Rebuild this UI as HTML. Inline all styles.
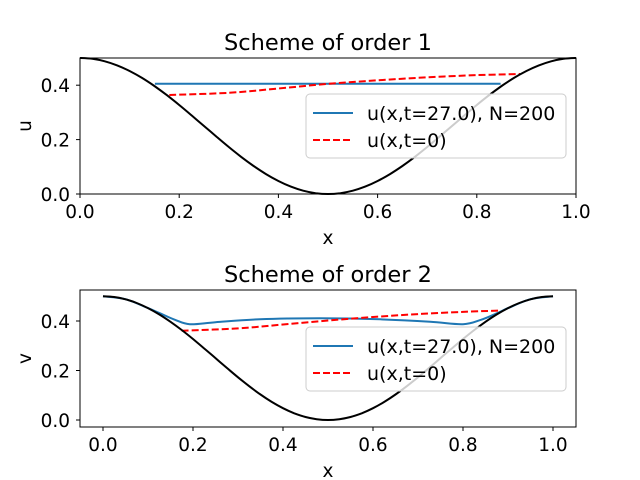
<!DOCTYPE html>
<html><head><meta charset="utf-8"><style>body{margin:0;background:#fff}svg{display:block;font-family:"DejaVu Sans","Liberation Sans",sans-serif}</style></head>
<body>
<svg id="c" width="640" height="480"></svg>
<script>
const cosX=[0,0.025,0.05,0.075,0.1,0.125,0.15,0.175,0.2,0.225,0.25,0.275,0.3,0.325,0.35,0.375,0.4,0.425,0.45,0.475,0.5,0.525,0.55,0.575,0.6,0.625,0.65,0.675,0.7,0.725,0.75,0.775,0.8,0.825,0.85,0.875,0.9,0.925,0.95,0.975,1];
const cosY=[0.5,0.4969,0.4878,0.4728,0.4523,0.4268,0.3969,0.3635,0.3273,0.2891,0.25,0.2109,0.1727,0.1365,0.1031,0.0732,0.0477,0.0272,0.0122,0.0031,0,0.0031,0.0122,0.0272,0.0477,0.0732,0.1031,0.1365,0.1727,0.2109,0.25,0.2891,0.3273,0.3635,0.3969,0.4268,0.4523,0.4728,0.4878,0.4969,0.5];
const red1X=[0.18,0.3,0.4,0.5,0.6,0.7,0.8,0.887];
const red1Y=[0.364,0.372,0.388,0.405,0.418,0.429,0.437,0.441];
const blue1X=[0.151,0.848];
const blue1Y=[0.405,0.405];
const red2X=[0.175,0.3,0.4,0.5,0.6,0.7,0.8,0.878];
const red2Y=[0.361,0.37,0.386,0.402,0.416,0.428,0.437,0.442];
const blue2X=[0,0.05,0.1,0.127,0.16,0.193,0.25,0.349,0.482,0.616,0.727,0.8,0.84,0.875,0.9,0.95,1];
const blue2Y=[0.5,0.488,0.452,0.431,0.405,0.387,0.395,0.407,0.411,0.407,0.397,0.387,0.405,0.431,0.452,0.488,0.5];
const ticksX1=[0,0.2,0.4,0.6,0.8,1.0];
const ticksY=[0,0.2,0.4];
const svg=document.getElementById('c');const NS='http://www.w3.org/2000/svg';
function el(t,a,txt){const e=document.createElementNS(NS,t);for(const k in a)e.setAttribute(k,a[k]);if(txt!==undefined)e.textContent=txt;svg.appendChild(e);return e;}
function smooth(P){if(P.length<3)return 'M'+P.map(p=>p[0].toFixed(1)+','+p[1].toFixed(1)).join(' L');
 let d='M'+P[0][0].toFixed(1)+','+P[0][1].toFixed(1);
 for(let i=0;i<P.length-1;i++){const p0=P[Math.max(i-1,0)],p1=P[i],p2=P[i+1],p3=P[Math.min(i+2,P.length-1)];
  const c1=[p1[0]+(p2[0]-p0[0])/6,p1[1]+(p2[1]-p0[1])/6],c2=[p2[0]-(p3[0]-p1[0])/6,p2[1]-(p3[1]-p1[1])/6];
  d+=' C'+c1.map(v=>v.toFixed(1)).join(',')+' '+c2.map(v=>v.toFixed(1)).join(',')+' '+p2[0].toFixed(1)+','+p2[1].toFixed(1);}
 return d;}
function panel(o){
 const sx=v=>o.x0+(v-o.xmin)/(o.xmax-o.xmin)*(o.x1-o.x0);
 const sy=v=>o.y1-(v-o.ymin)/(o.ymax-o.ymin)*(o.y1-o.y0);
 const pts=(X,Y)=>smooth(X.map((x,i)=>[sx(x),sy(Y[i])]));
 let t=el('text',{x:(o.x0+o.x1)/2,y:o.y0-8,'text-anchor':'middle','font-size':22.5,fill:'#000'},o.title);
 
 let b=el('path',{d:pts(o.bX,o.bY),fill:'none',stroke:'#1f77b4','stroke-width':2});
 
 let r=el('path',{d:pts(o.rX,o.rY),fill:'none',stroke:'#ff0000','stroke-width':2,'stroke-dasharray':'7,3'});
 
 let k=el('path',{d:pts(cosX,cosY),fill:'none',stroke:'#000','stroke-width':2});
 
 let f=el('rect',{x:o.x0,y:o.y0,width:o.x1-o.x0,height:o.y1-o.y0,fill:'none',stroke:'#000','stroke-width':1});
 
 o.tx.forEach(v=>{el('line',{x1:sx(v),x2:sx(v),y1:o.y1,y2:o.y1+4,stroke:'#000'});
  let l=el('text',{x:sx(v),y:o.y1+24,'text-anchor':'middle','font-size':18.5},v.toFixed(1));
  });
 ticksY.forEach(v=>{el('line',{x1:o.x0-4,x2:o.x0,y1:sy(v),y2:sy(v),stroke:'#000'});
  let l=el('text',{x:o.x0-10,y:sy(v)+7,'text-anchor':'end','font-size':18.5},v.toFixed(1));
  });
 let xl=el('text',{x:(o.x0+o.x1)/2,y:o.y1+50,'text-anchor':'middle','font-size':18.5},'x');
 
 let yy=(o.y0+o.y1)/2;
 let yl=el('text',{x:yy,y:0,'text-anchor':'middle','font-size':18.5,transform:'translate(31 0) rotate(-90 0 0) translate('+(-2*yy)+' 0)'},o.ylab);
 yl.setAttribute('x',-yy);yl.setAttribute('transform','translate(31 0) rotate(-90)');
 
 let L=o.leg;
 let lg=el('rect',{x:L,y:o.ly,width:260,height:64,rx:4,fill:'rgba(255,255,255,0.8)',stroke:'#ccc'});
 
 el('line',{x1:L+7,x2:L+47,y1:o.ly+19,y2:o.ly+19,stroke:'#1f77b4','stroke-width':2});
 let e1=el('text',{x:L+61,y:o.ly+26,'font-size':19},'u(x,t=27.0), N=200');
 
 el('line',{x1:L+7,x2:L+47,y1:o.ly+46,y2:o.ly+46,stroke:'#ff0000','stroke-width':2,'stroke-dasharray':'7,3'});
 let e2=el('text',{x:L+61,y:o.ly+53,'font-size':19},'u(x,t=0)');
 
}
panel({id:'top',x0:80,x1:576,y0:58,y1:194,xmin:0,xmax:1,ymin:0,ymax:0.5,title:'Scheme of order 1',ylab:'u',
 bX:blue1X,bY:blue1Y,rX:red1X,rY:red1Y,tx:ticksX1,leg:306,ly:94});
panel({id:'bottom',x0:80,x1:576,y0:290,y1:427,xmin:-0.05111,xmax:1.05111,ymin:-0.0283,ymax:0.5253,title:'Scheme of order 2',ylab:'v',
 bX:blue2X,bY:blue2Y,rX:red2X,rY:red2Y,tx:ticksX1,leg:306,ly:327});
</script>
</body></html>
